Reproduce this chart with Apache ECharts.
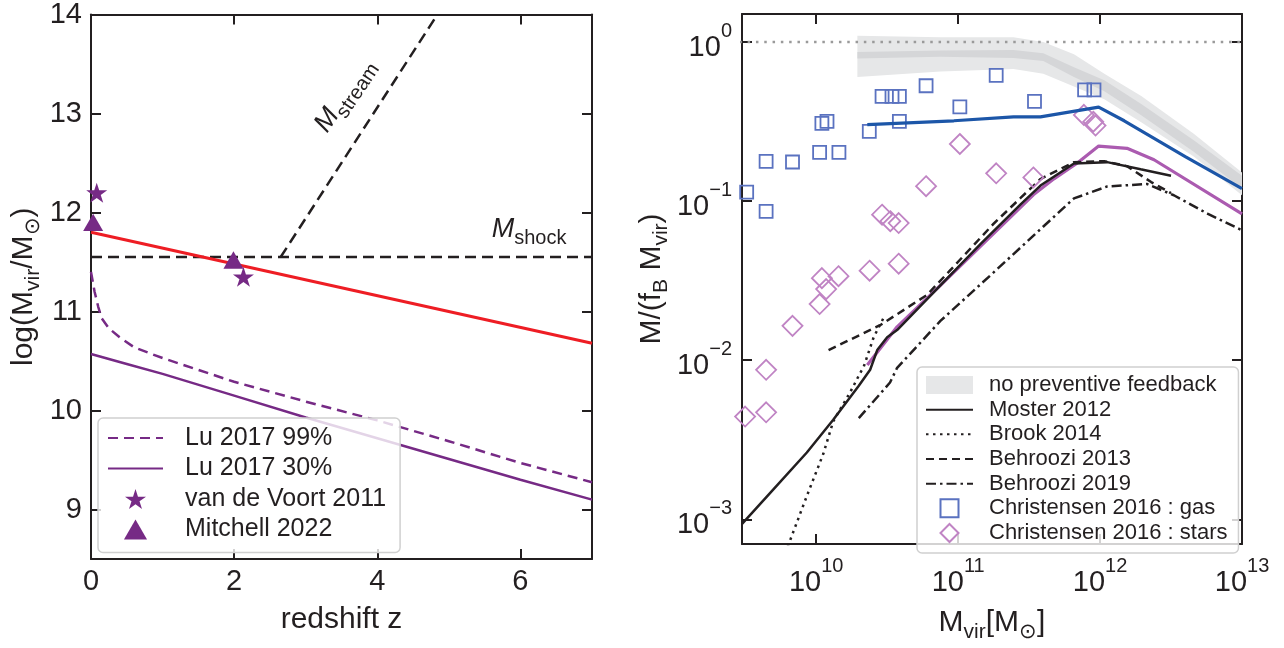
<!DOCTYPE html>
<html><head><meta charset="utf-8">
<script src="https://cdn.jsdelivr.net/npm/echarts@6/dist/echarts.min.js"></script>
<style>html,body{margin:0;padding:0;background:#fff}#c{width:1284px;height:648px}</style>
</head><body><div id="c"></div>
<script>
// ---------------- LEFT PANEL DATA (redshift z, log Mvir) ----------------
const shockZ = [0, 7];
const shockM = [11.55, 11.55];
const streamZ = [2.65, 4.84];
const streamM = [11.55, 14.0];
const redZ = [0, 7];
const redM = [11.80, 10.68];
const lu99Z = [0, 0.05, 0.1, 0.15, 0.25, 0.4, 0.6, 0.85, 1.0, 1.5, 2, 3, 4, 5, 6, 7];
const lu99M = [11.40, 11.20, 11.05, 10.93, 10.83, 10.74, 10.64, 10.57, 10.53, 10.41, 10.29, 10.09, 9.90, 9.69, 9.47, 9.275];
const lu30Z = [0, 0.5, 1, 2, 3, 4, 5, 6, 7];
const lu30M = [10.57, 10.47, 10.37, 10.15, 9.93, 9.72, 9.51, 9.30, 9.10];
const vdvZ = [0.08, 2.13];
const vdvM = [12.20, 11.35];
const mitZ = [0.03, 1.99];
const mitM = [11.90, 11.52];

// ---------------- RIGHT PANEL DATA (log10 Mvir, log10 M/(fB Mvir)) ----------------
const bandLogM = [10.29, 10.875, 11.39, 11.6, 11.816, 12.03, 12.29, 12.66, 13.0];
const bandOuterHi = [0.039, 0.03, 0.03, 0.0, -0.077, -0.2, -0.34, -0.576, -0.82];
const bandOuterLo = [-0.22, -0.185, -0.169, -0.2, -0.28, -0.36, -0.505, -0.72, -0.963];
const bandInnerHi = [-0.063, -0.053, -0.05, -0.07, -0.159, -0.24, -0.39, -0.617, -0.84];
const bandInnerLo = [-0.104, -0.093, -0.1, -0.12, -0.22, -0.31, -0.46, -0.69, -0.92];
const unityLogM = [9.4, 13.1];
const unityLogF = [0, 0];
const gasLineLogM = [10.36, 10.97, 11.39, 11.58, 11.99, 12.17, 12.6, 13.0];
const gasLineLogF = [-0.519, -0.495, -0.47, -0.47, -0.409, -0.495, -0.72, -0.922];
const starLineLogM = [10.36, 10.57, 10.875, 11.157, 11.53, 11.675, 11.84, 11.99, 12.19, 12.38, 13.0];
const starLineLogF = [-2.03, -1.79, -1.53, -1.285, -0.96, -0.86, -0.76, -0.654, -0.668, -0.74, -1.08];
const mosterLogM = [9.476, 9.70, 9.934, 10.12, 10.30, 10.38, 10.43, 10.50, 10.57, 10.875, 11.157, 11.44, 11.58, 11.816, 12.05, 12.286, 12.5];
const mosterLogF = [-3.03, -2.81, -2.58, -2.374, -2.16, -2.06, -1.936, -1.855, -1.81, -1.53, -1.27, -1.02, -0.902, -0.764, -0.755, -0.80, -0.84];
const brookLogM = [9.80, 9.934, 10.05, 10.12, 10.24, 10.31, 10.335, 10.405, 10.475];
const brookLogF = [-3.17, -2.853, -2.588, -2.384, -2.20, -2.08, -2.04, -1.855, -1.733];
const b13LogM = [10.087, 10.45, 10.78, 10.93, 11.25, 11.44, 11.58, 11.816, 12.03, 12.19, 12.36, 12.5];
const b13LogF = [-1.936, -1.78, -1.59, -1.448, -1.142, -0.98, -0.861, -0.755, -0.749, -0.78, -0.88, -0.95];
const b19LogM = [10.30, 10.52, 10.57, 10.875, 11.25, 11.77, 11.816, 12.05, 12.33, 12.52, 12.76, 13.0];
const b19LogF = [-2.364, -2.14, -2.048, -1.753, -1.448, -1.02, -0.983, -0.908, -0.892, -0.963, -1.08, -1.183];
const gasLogM = [9.51, 9.647, 9.647, 9.833, 10.024, 10.16, 10.04, 10.076, 10.374, 10.464, 10.534, 10.586, 10.586, 10.774, 11.012, 11.268, 11.538, 11.891, 11.957];
const gasLogF = [-0.943, -0.75, -1.065, -0.754, -0.694, -0.694, -0.511, -0.499, -0.562, -0.342, -0.342, -0.342, -0.499, -0.275, -0.407, -0.21, -0.373, -0.301, -0.301];
const starsLogM = [9.499, 9.647, 9.647, 9.833, 10.024, 10.04, 10.07, 10.157, 10.376, 10.581, 10.464, 10.522, 10.581, 10.774, 11.012, 11.268, 11.53, 11.886, 11.952, 11.968];
const starsLogF = [-2.354, -2.327, -2.06, -1.784, -1.647, -1.484, -1.553, -1.472, -1.437, -1.393, -1.085, -1.126, -1.138, -0.906, -0.641, -0.825, -0.851, -0.458, -0.501, -0.525];

// ---------------- STYLE ----------------
const FONT = "'Liberation Sans', Arial, Helvetica, sans-serif";
const INK = '#231f20';
const PURPLE = '#762a85';
const RED = '#ee1d24';
const NOFILL = 'rgba(0,0,0,0)';
const STAR_PATH = 'path://M50,0L61.23,34.55L97.55,34.55L68.17,55.9L79.39,90.45L50,69.1L20.61,90.45L31.83,55.9L2.45,34.55L38.77,34.55Z';
const TRI_PATH = 'path://M50,0L100,86.6L0,86.6Z';
const SQ_PATH = 'path://M0,0L10,0L10,10L0,10Z';
const DIA_PATH = 'path://M5,0L10,5L5,10L0,5Z';

const pts = (xs, ys) => xs.map((x, i) => [x, ys[i]]);
const lpts = (xs, ys) => xs.map((x, i) => [Math.pow(10, x), Math.pow(10, ys[i])]);

const supRich = {
  m: {fontSize: 29, lineHeight: 29, verticalAlign: 'bottom', color: INK, fontFamily: FONT},
  s: {fontSize: 20, lineHeight: 41, verticalAlign: 'top', color: INK, fontFamily: FONT}
};
function powLabel(v) {
  const e = Math.log10(v), r = Math.round(e);
  if (Math.abs(e - r) > 1e-6) return '';
  return '{m|10}{s|' + String(r).replace('-', '\u2212') + '}';
}
const nameRich = {
  n: {fontSize: 30, lineHeight: 30, verticalAlign: 'top', color: INK, fontFamily: FONT},
  sub: {fontSize: 21, lineHeight: 35, verticalAlign: 'bottom', color: INK, fontFamily: FONT}
};
const annRich = {
  i: {fontSize: 27, lineHeight: 27, fontStyle: 'italic', fontFamily: FONT, color: INK, verticalAlign: 'top'},
  s: {fontSize: 20, lineHeight: 33, fontFamily: FONT, color: INK, verticalAlign: 'bottom'}
};

const axLine = {show: true, onZero: false, lineStyle: {color: INK, width: 2}};
const axTick = {show: true, inside: true, length: 10, lineStyle: {color: INK, width: 2}};

function baseAxis(extra) {
  return Object.assign({
    axisLine: axLine, axisTick: axTick, splitLine: {show: false}, minorTick: {show: false}
  }, extra);
}

const xAxes = [
  baseAxis({gridIndex: 0, type: 'value', position: 'bottom', min: 0, max: 7, interval: 2,
    axisLabel: {fontSize: 29, color: INK, fontFamily: FONT, margin: 8, showMaxLabel: false},
    name: 'redshift z', nameLocation: 'middle', nameGap: 46,
    nameTextStyle: {fontSize: 30, color: INK, fontFamily: FONT}}),
  baseAxis({gridIndex: 0, type: 'value', position: 'top', min: 0, max: 7, interval: 2, axisLabel: {show: false}}),
  baseAxis({gridIndex: 1, type: 'log', logBase: 10, position: 'bottom', min: 3e9, max: 1e13,
    axisLabel: {formatter: powLabel, rich: supRich, margin: 12, showMinLabel: false},
    name: '{n|M}{sub|vir}{n|[M}{sub|\u2299}{n|]}', nameLocation: 'middle', nameGap: 64,
    nameTextStyle: {rich: nameRich}}),
  baseAxis({gridIndex: 1, type: 'log', logBase: 10, position: 'top', min: 3e9, max: 1e13, axisLabel: {show: false}})
];
const yAxes = [
  baseAxis({gridIndex: 0, type: 'value', position: 'left', min: 8.5, max: 14, minInterval: 1, maxInterval: 1,
    axisLabel: {fontSize: 29, color: INK, fontFamily: FONT, margin: 9, showMinLabel: false},
    name: '{n|log(M}{sub|vir}{n|/M}{sub|\u2299}{n|)}', nameLocation: 'middle', nameGap: 47, nameRotate: 90,
    nameTextStyle: {rich: nameRich}}),
  baseAxis({gridIndex: 0, type: 'value', position: 'right', min: 8.5, max: 14, minInterval: 1, maxInterval: 1, axisLabel: {show: false}}),
  baseAxis({gridIndex: 1, type: 'log', logBase: 10, position: 'left', min: 7e-4, max: 1.5,
    axisLabel: {formatter: powLabel, rich: supRich, margin: 10},
    name: '{n|M/(f}{sub|B}{n| M}{sub|vir}{n|)}', nameLocation: 'middle', nameGap: 70, nameRotate: 90,
    nameTextStyle: {rich: nameRich}}),
  baseAxis({gridIndex: 1, type: 'log', logBase: 10, position: 'right', min: 7e-4, max: 1.5, axisLabel: {show: false}})
];

const lineBase = (name, data, xi, yi, color, width, type, z) => ({
  name, type: 'line', data, xAxisIndex: xi, yAxisIndex: yi, symbol: 'none', showSymbol: false,
  lineStyle: {color, width, type}, itemStyle: {color: NOFILL}, z: z || 3, silent: true, clip: true
});

const series = [
  Object.assign(lineBase('shock', pts(shockZ, shockM), 0, 0, INK, 2.5, [11, 6]), {
    markPoint: {symbol: 'circle', symbolSize: 1, itemStyle: {color: NOFILL}, silent: true,
      data: [{coord: [6.12, 11.80], label: {show: true, position: 'inside', formatter: '{i|M}{s|shock}', rich: annRich}}]}
  }),
  Object.assign(lineBase('stream', pts(streamZ, streamM), 0, 0, INK, 2.5, [11, 6]), {
    markPoint: {symbol: 'circle', symbolSize: 1, itemStyle: {color: NOFILL}, silent: true,
      data: [{coord: [3.57, 13.17], label: {show: true, position: 'inside', rotate: 56, formatter: '{i|M}{s|stream}', rich: annRich}}]}
  }),
  lineBase('red', pts(redZ, redM), 0, 0, RED, 3, 'solid'),
  lineBase('Lu 2017 99%', pts(lu99Z, lu99M), 0, 0, PURPLE, 2.5, [10, 6]),
  lineBase('Lu 2017 30%', pts(lu30Z, lu30M), 0, 0, PURPLE, 2.5, 'solid'),
  {name: 'van de Voort 2011', type: 'scatter', data: pts(vdvZ, vdvM), xAxisIndex: 0, yAxisIndex: 0,
   symbol: STAR_PATH, symbolSize: 21, symbolKeepAspect: true, itemStyle: {color: PURPLE, opacity: 1}, z: 4, clip: true, silent: true},
  {name: 'Mitchell 2022', type: 'scatter', data: pts(mitZ, mitM), xAxisIndex: 0, yAxisIndex: 0,
   symbol: TRI_PATH, symbolSize: 20, symbolKeepAspect: true, itemStyle: {color: PURPLE, opacity: 1}, z: 4, clip: true, silent: true},

  {name: 'no preventive feedback', type: 'custom', xAxisIndex: 2, yAxisIndex: 2, z: 1, silent: true,
   data: [[1e11, 0.5]], itemStyle: {color: '#e6e7e8'}, clip: true,
   renderItem: function (params, api) {
     const poly = (hi, lo) => bandLogM.map((m, i) => api.coord([Math.pow(10, m), Math.pow(10, hi[i])]))
       .concat(bandLogM.map((m, i) => api.coord([Math.pow(10, m), Math.pow(10, lo[i])])).reverse());
     return {type: 'group', children: [
       {type: 'polygon', shape: {points: poly(bandOuterHi, bandOuterLo)}, style: {fill: '#e6e7e8'}},
       {type: 'polygon', shape: {points: poly(bandInnerHi, bandInnerLo)}, style: {fill: '#d5d6d8'}}
     ]};
   }},
  lineBase('unity', lpts(unityLogM, unityLogF), 2, 2, '#9a9a9a', 2.5, [2.5, 5.8], 2),
  lineBase('Moster 2012', lpts(mosterLogM, mosterLogF), 2, 2, INK, 2.5, 'solid'),
  lineBase('Brook 2014', lpts(brookLogM, brookLogF), 2, 2, INK, 2.5, [2.5, 4.5]),
  lineBase('Behroozi 2013', lpts(b13LogM, b13LogF), 2, 2, INK, 2.5, [8, 5]),
  lineBase('Behroozi 2019', lpts(b19LogM, b19LogF), 2, 2, INK, 2.5, [10, 4, 2.5, 4]),
  lineBase('gasModel', lpts(gasLineLogM, gasLineLogF), 2, 2, '#1c56a8', 3.2, 'solid', 4),
  lineBase('starModel', lpts(starLineLogM, starLineLogF), 2, 2, '#ab5bb0', 3.2, 'solid', 2),
  {name: 'Christensen 2016 : gas', type: 'scatter', data: lpts(gasLogM, gasLogF), xAxisIndex: 2, yAxisIndex: 2,
   symbol: 'rect', symbolSize: 13, itemStyle: {color: NOFILL, borderColor: '#5a72c0', borderWidth: 1.8, opacity: 1},
   z: 3, clip: true, silent: true},
  {name: 'Christensen 2016 : stars', type: 'scatter', data: lpts(starsLogM, starsLogF), xAxisIndex: 2, yAxisIndex: 2,
   symbol: 'diamond', symbolSize: 20, itemStyle: {color: NOFILL, borderColor: '#c084c4', borderWidth: 1.8, opacity: 1},
   z: 3, clip: true, silent: true}
];

const legendBox = {
  orient: 'vertical', selectedMode: false, backgroundColor: 'rgba(255,255,255,0.8)',
  borderColor: '#d0d0d0', borderWidth: 1.5, borderRadius: 5, align: 'left'
};

const option = {
  animation: false,
  backgroundColor: '#ffffff',
  textStyle: {fontFamily: FONT},
  grid: [
    {left: 91, top: 14, width: 501, height: 545},
    {left: 742, top: 14, width: 500, height: 545}
  ],
  xAxis: xAxes,
  yAxis: yAxes,
  legend: [
    Object.assign({}, legendBox, {
      left: 98, top: 418, padding: [5, 14, 8, 9], itemWidth: 55, itemHeight: 20, itemGap: 0.5,
      textStyle: {fontSize: 25, lineHeight: 30, color: INK, fontFamily: FONT, padding: [0, 0, 0, 17]},
      data: [
        {name: 'Lu 2017 99%'},
        {name: 'Lu 2017 30%'},
        {name: 'van de Voort 2011', icon: STAR_PATH},
        {name: 'Mitchell 2022', icon: TRI_PATH}
      ]
    }),
    Object.assign({}, legendBox, {
      left: 917, top: 367, padding: [6, 11, 8, 8], itemWidth: 47, itemHeight: 18, itemGap: 0.67,
      textStyle: {fontSize: 22, lineHeight: 24, color: INK, fontFamily: FONT, padding: [0, 0, 0, 11]},
      data: [
        {name: 'no preventive feedback', icon: 'rect', itemStyle: {color: '#e6e7e8'}},
        {name: 'Moster 2012'},
        {name: 'Brook 2014'},
        {name: 'Behroozi 2013'},
        {name: 'Behroozi 2019'},
        {name: 'Christensen 2016 : gas', icon: SQ_PATH},
        {name: 'Christensen 2016 : stars', icon: DIA_PATH}
      ]
    })
  ],
  series: series
};

const chart = echarts.init(document.getElementById('c'), null, {renderer: 'canvas'});
chart.setOption(option);
</script>
</body></html>
